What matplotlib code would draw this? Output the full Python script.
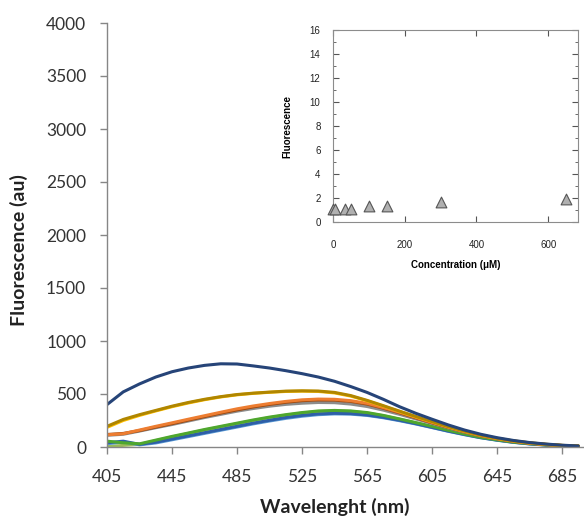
import matplotlib
matplotlib.use("Agg")
import matplotlib.pyplot as plt
from matplotlib.ticker import MultipleLocator

# ---------------- data ----------------
wavelength = [405, 415, 425, 435, 445, 455, 465, 475, 485, 495, 505, 515, 525, 535, 545,
              555, 565, 575, 585, 595, 605, 615, 625, 635, 645, 655, 665, 675, 685, 695]

navy = [400, 520, 595, 660, 710, 745, 770, 785, 783, 765, 745, 720, 692, 660, 620,
        570, 515, 450, 380, 318, 262, 208, 160, 120, 88, 62, 42, 28, 17, 10]
dark_gold = [195, 260, 305, 345, 385, 420, 450, 475, 495, 508, 518, 527, 530, 528, 515,
             485, 440, 390, 338, 288, 240, 192, 150, 112, 82, 58, 40, 26, 15, 9]
gold = [185, 250, 298, 340, 380, 415, 446, 472, 492, 506, 516, 524, 527, 524, 510,
        480, 436, 386, 335, 285, 238, 190, 148, 111, 81, 57, 39, 25, 15, 9]
orange = [115, 125, 160, 195, 228, 262, 295, 328, 360, 387, 410, 430, 445, 452, 450,
          437, 412, 372, 328, 280, 232, 187, 145, 108, 79, 55, 37, 24, 14, 8]
brown = [118, 128, 155, 188, 220, 254, 287, 320, 350, 378, 402, 422, 437, 444, 442,
         430, 405, 366, 322, 275, 228, 184, 143, 106, 78, 54, 36, 23, 14, 8]
gray = [110, 120, 150, 182, 212, 245, 278, 308, 338, 363, 385, 402, 413, 420, 418,
        405, 382, 348, 308, 265, 222, 180, 140, 105, 77, 54, 36, 23, 13, 8]
green = [55, 40, 30, 65, 100, 132, 165, 195, 225, 255, 282, 305, 325, 340, 345,
         340, 325, 298, 265, 230, 195, 158, 123, 92, 68, 47, 32, 20, 12, 7]
lime = [5, 15, 25, 60, 95, 128, 160, 190, 220, 250, 277, 300, 320, 335, 340,
        336, 321, 295, 262, 228, 193, 156, 121, 91, 67, 46, 31, 20, 12, 7]
blue = [40, 55, 25, 45, 75, 105, 135, 165, 195, 225, 252, 278, 298, 312, 318,
        315, 302, 280, 252, 220, 185, 150, 118, 88, 65, 45, 30, 19, 11, 6]
light_blue = [30, 48, 20, 38, 68, 98, 128, 158, 188, 218, 245, 270, 290, 305, 312,
              310, 298, 276, 248, 217, 183, 148, 116, 87, 64, 44, 29, 18, 11, 6]

series = [
    (lime, "#9BBB59"),
    (light_blue, "#5B9BD5"),
    (blue, "#2E5FA8"),
    (green, "#4EA72E"),
    (gray, "#8C8C8C"),
    (brown, "#9E480E"),
    (orange, "#ED7D31"),
    (gold, "#FFC000"),
    (dark_gold, "#B08600"),
    (navy, "#264478"),
]

x_ticks = [405, 445, 485, 525, 565, 605, 645, 685]
y_ticks = [0, 500, 1000, 1500, 2000, 2500, 3000, 3500, 4000]

conc = [0, 5, 33, 49, 100, 150, 300, 650]
conc_fluo = [1.1, 1.1, 1.1, 1.1, 1.3, 1.35, 1.7, 1.9]

# ---------------- figure ----------------
W, H = 584, 523
fig = plt.figure(figsize=(W / 100, H / 100), dpi=100)

main_font = "Lato"
ax = fig.add_axes([107 / W, 1 - 447 / H, (584 - 107) / W, (447 - 23) / H])
for vals, col in series:
    ax.plot(wavelength, vals, color=col, lw=2.2, solid_capstyle="round")

ax.set_xlim(405, 698.5)
ax.set_ylim(0, 4000)
ax.set_xticks(x_ticks)
ax.set_yticks(y_ticks)
for s in ["top", "right"]:
    ax.spines[s].set_visible(False)
for s in ["left", "bottom"]:
    ax.spines[s].set_color("#868686")
    ax.spines[s].set_linewidth(1.0)
ax.tick_params(axis="both", direction="out", length=5, width=1, color="#868686",
               labelsize=12.5, labelcolor="#333333")
ax.tick_params(axis="y", pad=10)
ax.tick_params(axis="x", pad=11)
for lab in ax.get_xticklabels() + ax.get_yticklabels():
    lab.set_fontfamily(main_font)
ax.set_xlabel("Wavelenght (nm)", fontsize=14, fontweight="bold", family=main_font,
              color="#222222")
ax.set_ylabel("Fluorescence (au)", fontsize=14, fontweight="bold", family=main_font,
              color="#222222")
ax.xaxis.set_label_coords((335 - 107) / (584 - 107), -(498 - 447) / (447 - 23))
ax.yaxis.set_label_coords(-(107 - 28) / (584 - 107), (447 - 250) / (447 - 23))

# ---------------- inset ----------------
inset_font = "Liberation Sans"
ins = fig.add_axes([333 / W, 1 - 222 / H, (578 - 333) / W, (222 - 30) / H])
ins.scatter(conc, conc_fluo, marker="^", s=60, facecolor="#B0B0B0",
            edgecolor="#555555", linewidth=0.8, zorder=3, clip_on=False)
ins.set_xlim(0, 683)
ins.set_ylim(0, 16)
ins.set_xticks([0, 200, 400, 600])
ins.set_yticks(range(0, 17, 2))
ins.yaxis.set_minor_locator(MultipleLocator(1))
for s in ins.spines.values():
    s.set_color("#8C8C8C")
    s.set_linewidth(0.8)
ins.tick_params(axis="both", which="both", direction="in", top=True, right=True,
                color="#555555", labelsize=7, labelcolor="#222222")
ins.tick_params(which="major", length=4, width=0.8)
ins.tick_params(which="minor", length=2.5, width=0.6)
ins.tick_params(axis="x", pad=13)
ins.tick_params(axis="y", pad=9)
for lab in ins.get_xticklabels() + ins.get_yticklabels():
    lab.set_fontfamily(inset_font)
ins.set_xlabel("Concentration (\u03bcM)", fontsize=7, fontweight="bold",
               family=inset_font, labelpad=7)
ins.set_ylabel("Fluorescence", fontsize=7, fontweight="bold", family=inset_font)
ins.yaxis.set_label_coords(-(333 - 292) / (578 - 333), 0.5)

fig.savefig("out.png", dpi=100)
